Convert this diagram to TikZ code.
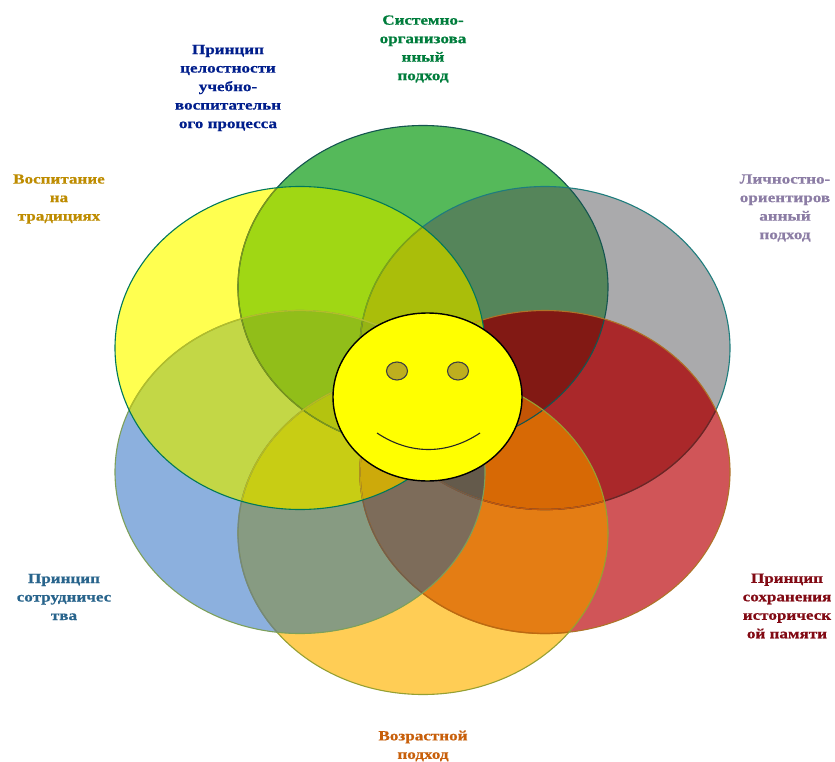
\documentclass[tikz,border=0pt]{standalone}
\usepackage{fontspec}
\setmainfont{Liberation Serif}
\newfontfamily\labfont[FakeStretch=1.22,FakeBold=0.6]{Liberation Serif}
\usetikzlibrary{shapes.geometric}
\definecolor{lblue}{RGB}{125,160,90}
\definecolor{lorange}{RGB}{150,160,50}
\definecolor{lred}{RGB}{175,115,40}
\definecolor{lgray}{RGB}{30,125,125}
\definecolor{lgreen}{RGB}{20,85,80}
\definecolor{lyel}{RGB}{0,120,90}
\definecolor{faceyel}{RGB}{255,255,0}
\definecolor{eye}{RGB}{190,175,30}
\definecolor{tgreen}{RGB}{0,125,60}
\definecolor{tnavy}{RGB}{0,30,140}
\definecolor{tgold}{RGB}{190,140,0}
\definecolor{tlil}{RGB}{140,125,165}
\definecolor{tred}{RGB}{130,10,20}
\definecolor{torange}{RGB}{200,95,10}
\definecolor{tblue}{RGB}{40,100,140}
\tikzset{
  petal/.style={ellipse,minimum width=370pt,minimum height=323pt,inner sep=0pt,draw=#1,line width=1.1pt},
  lab/.style={align=center,font=\labfont\bfseries\fontsize{14}{18.5}\selectfont,inner sep=0pt},
  eyeball/.style={ellipse,minimum width=21pt,minimum height=18pt,inner sep=0pt,draw=black!75,line width=1.1pt,fill=eye},
}
\newcommand\cG{\clip (423,287) ellipse [x radius=185,y radius=161.5];}
\newcommand\cA{\clip (545,348) ellipse [x radius=185,y radius=161.5];}
\newcommand\cR{\clip (545,472) ellipse [x radius=185,y radius=161.5];}
\newcommand\cO{\clip (423,533) ellipse [x radius=185,y radius=161.5];}
\newcommand\cB{\clip (300,472) ellipse [x radius=185,y radius=161.5];}
\newcommand\cY{\clip (300,348) ellipse [x radius=185,y radius=161.5];}
\newcommand\patch[2]{\begin{scope}#1\definecolor{patchc}{RGB}{#2}\fill[patchc] (0,0) rectangle (835,762);\end{scope}}
\newcommand\soft[3]{\begin{scope}#1\definecolor{softc}{RGB}{#3}\draw[softc,line width=1.3pt] (#2) ellipse [x radius=185,y radius=161.5];\end{scope}}
\begin{document}
\begin{tikzpicture}[x=1pt,y=-1pt]
\useasboundingbox (0,0) rectangle (835,762);
\fill[white] (0,0) rectangle (835,762);
% single
\patch{\cG}{85,185,90}
\patch{\cA}{170,170,172}
\patch{\cR}{208,85,88}
\patch{\cO}{255,205,85}
\patch{\cB}{140,176,222}
\patch{\cY}{255,255,80}
% pairs
\patch{\cG\cA}{85,133,90}
\patch{\cA\cR}{170,40,42}
\patch{\cR\cO}{228,125,20}
\patch{\cO\cB}{135,155,130}
\patch{\cB\cY}{195,215,70}
\patch{\cY\cG}{160,215,20}
% triples
\patch{\cG\cA\cR}{130,25,20}
\patch{\cA\cR\cO}{215,105,5}
\patch{\cR\cO\cB}{125,108,90}
\patch{\cO\cB\cY}{200,205,20}
\patch{\cB\cY\cG}{145,190,25}
\patch{\cY\cG\cA}{170,190,10}
% quadruples
\patch{\cG\cA\cR\cO}{195,85,5}
\patch{\cA\cR\cO\cB}{100,90,75}
\patch{\cR\cO\cB\cY}{205,170,10}
\patch{\cO\cB\cY\cG}{180,195,15}
\patch{\cB\cY\cG\cA}{150,180,20}
% outlines, bottom to top; each is muted where upper petals cover it
\node[petal=lgreen] (green) at (423,287) {};
\soft{\cY}{423,287}{125,150,25}
\node[petal=lgray] (gray) at (545,348) {};
\soft{\cR}{545,348}{120,30,30}
\soft{\cO}{545,348}{195,90,10}
\soft{\cB}{545,348}{105,95,80}
\soft{\cY}{545,348}{130,165,15}
\node[petal=lred] (red) at (545,472) {};
\soft{\cO}{545,472}{190,105,15}
\soft{\cB}{545,472}{110,95,80}
\soft{\cY}{545,472}{195,165,15}
\node[petal=lorange] (orange) at (423,533) {};
\soft{\cB}{423,533}{115,135,125}
\soft{\cY}{423,533}{185,190,25}
\node[petal=lblue] (blue) at (300,472) {};
\soft{\cY}{300,472}{180,190,40}
\node[petal=lyel] (yellow) at (300,348) {};
% face
\node[ellipse,minimum width=189pt,minimum height=168pt,inner sep=0pt,draw=black,line width=1.4pt,fill=faceyel] (face) at (427.5,397) {};
\node[eyeball] (eyeL) at (397,371) {};
\node[eyeball] (eyeR) at (458,371) {};
\coordinate (smileL) at (377,433);
\coordinate (smileR) at (480,433);
\draw[black!85,line width=1.1pt] (smileL) .. controls (410,455) and (447,455) .. (smileR);
% labels
\node[lab,text=tgreen] (t1) at (423,49) {Системно-\\организова\\нный\\подход};
\node[lab,text=tnavy] (t2) at (228,88) {Принцип\\целостности\\учебно-\\воспитательн\\ого процесса};
\node[lab,text=tgold] (t3) at (59,199) {Воспитание\\на\\традициях};
\node[lab,text=tlil] (t4) at (785,208) {Личностно-\\ориентиров\\анный\\подход};
\node[lab,text=tred] (t5) at (787,606) {Принцип\\сохранения\\историческ\\ой памяти};
\node[lab,text=torange] (t6) at (423,746) {Возрастной\\подход};
\node[lab,text=tblue] (t7) at (64,597) {Принцип\\сотрудничес\\тва};
\end{tikzpicture}
\end{document}
